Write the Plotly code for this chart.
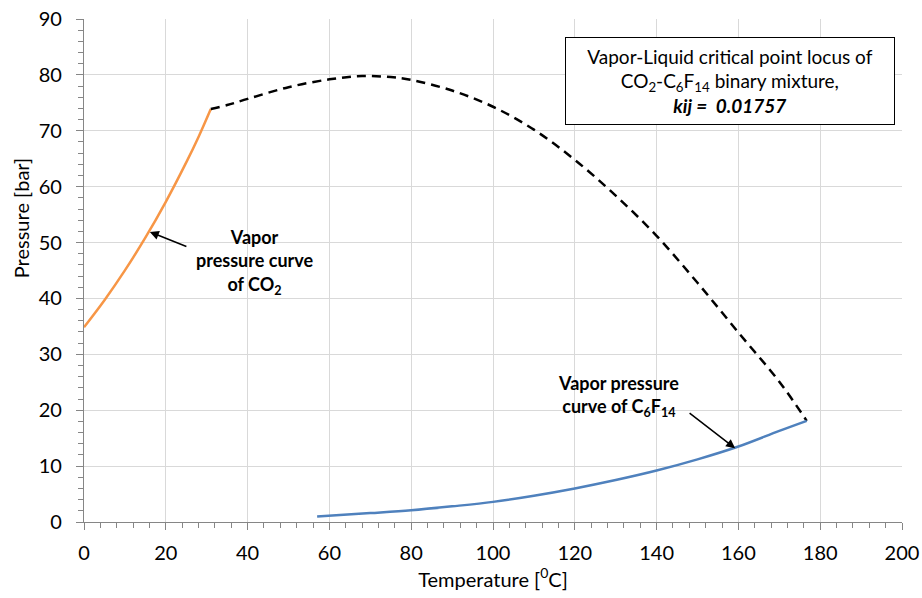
import plotly.graph_objects as go

# CO2 vapor pressure curve
co2_T = [0, 5, 10, 15, 20, 25, 28, 31]
co2_P = [34.85, 39.69, 45.02, 50.87, 57.29, 64.34, 68.9, 73.9]

# Critical locus (dashed)
crit_T = [31, 35, 40, 50, 60, 68, 75, 80, 90, 100, 110, 120, 130, 140, 150, 160, 170, 176.7]
crit_P = [73.9, 74.6, 75.7, 77.8, 79.2, 79.8, 79.6, 79.1, 77.2, 74.3, 70.2, 64.8, 58.4, 51.2, 42.8, 33.9, 25.1, 18.1]

# C6F14 vapor pressure curve
c6_T = [57, 70, 80, 90, 100, 110, 120, 130, 140, 150, 160, 170, 176.7]
c6_P = [1.0, 1.6, 2.1, 2.8, 3.6, 4.7, 6.0, 7.5, 9.2, 11.2, 13.5, 16.3, 18.1]

font = "Lato, Carlito, Calibri, sans-serif"

fig = go.Figure()
fig.add_trace(go.Scatter(x=co2_T, y=co2_P, mode="lines", line=dict(color="#F79646", width=2.5, shape="spline"), showlegend=False))
fig.add_trace(go.Scatter(x=crit_T, y=crit_P, mode="lines", line=dict(color="black", width=2.5, dash="9px,6px", shape="spline"), showlegend=False))
fig.add_trace(go.Scatter(x=c6_T, y=c6_P, mode="lines", line=dict(color="#4F81BD", width=2.5, shape="spline"), showlegend=False))

axis_common = dict(
    showline=True, linecolor="#868686", linewidth=1.3,
    ticks="outside", tickcolor="#868686", ticklen=7, tickwidth=1.3,
    showgrid=True, gridcolor="#D9D9D9", gridwidth=1,
    zeroline=False, tickfont=dict(size=20, color="black", family=font),
    automargin=False,
)

fig.update_xaxes(range=[0, 200], dtick=20, tick0=0, ticklabelstandoff=6,
                 minor=dict(dtick=4, ticks="outside", ticklen=5, tickcolor="#868686", showgrid=False),
                 title=dict(text="Temperature [<sup>0</sup>C]", font=dict(size=20, color="black", family=font), standoff=6),
                 **axis_common)
fig.update_yaxes(range=[0, 90], dtick=10, tick0=0, ticklabelstandoff=10,
                 minor=dict(dtick=2, ticks="outside", ticklen=5, tickcolor="#868686", showgrid=False),
                 **axis_common)

# y-axis title (placed as in the reference, above the axis middle)
fig.add_annotation(x=-0.077, y=0.604, xref="paper", yref="paper", showarrow=False,
                   text="Pressure [bar]", textangle=-90, xanchor="center", yanchor="middle",
                   font=dict(size=20, color="black", family=font))

fig.add_annotation(x=16.1, y=51.9, ax=25.4, ay=49.2, xref="x", yref="y", axref="x", ayref="y",
                   text="", showarrow=True, arrowhead=2, arrowsize=1.2, arrowwidth=1.5, arrowcolor="black")
fig.add_annotation(x=41.8, y=46.5, xref="x", yref="y", showarrow=False,
                   text="<b>Vapor<br>pressure curve<br>of CO<sub>2</sub></b>",
                   font=dict(size=18, color="black", family=font), align="center")

fig.add_annotation(x=159.2, y=13.2, ax=147.7, ay=19.7, xref="x", yref="y", axref="x", ayref="y",
                   text="", showarrow=True, arrowhead=2, arrowsize=1.2, arrowwidth=1.5, arrowcolor="black")
fig.add_annotation(x=130.8, y=22.5, xref="x", yref="y", showarrow=False,
                   text="<b>Vapor pressure<br>curve of C<sub>6</sub>F<sub>14</sub></b>",
                   font=dict(size=18, color="black", family=font), align="center")

fig.add_annotation(x=0.790, y=0.964, xref="paper", yref="paper", showarrow=False,
                   xanchor="center", yanchor="top", width=314, height=72,
                   text="Vapor-Liquid critical point locus of<br>CO<sub>2</sub>-C<sub>6</sub>F<sub>14</sub> binary mixture,<br><b><i>kij =  0.01757</i></b>",
                   font=dict(size=19, color="black", family=font), align="center",
                   bordercolor="black", borderwidth=1, borderpad=7, bgcolor="white")

fig.update_layout(width=922, height=598, margin=dict(l=84, r=20, t=19, b=76),
                  plot_bgcolor="white", paper_bgcolor="white",
                  font=dict(family=font, color="black"))

fig.write_html("out.html")
